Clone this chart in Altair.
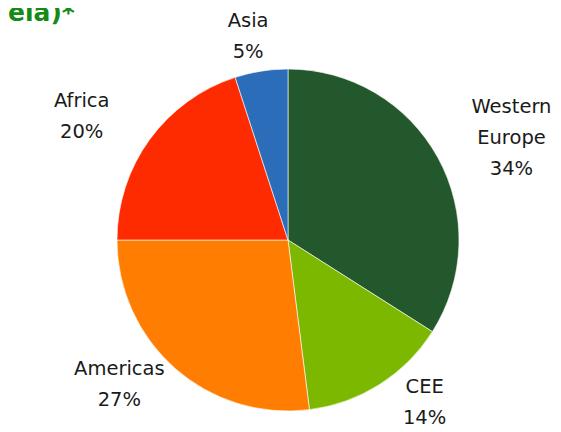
import altair as alt
import pandas as pd

# ---- data ----
regions = ["Western Europe", "CEE", "Americas", "Africa", "Asia"]
label_names = ["Western\nEurope", "CEE", "Americas", "Africa", "Asia"]
shares = [34, 14, 27, 20, 5]
colors = ["#23572c", "#7db800", "#ff7d00", "#ff2b00", "#2c6dba"]
title_text = "ela)*"

df = pd.DataFrame({
    "idx": list(range(len(regions))),
    "region": regions,
    "name": label_names,
    "share": shares,
})
df["label"] = df["name"] + "\n" + df["share"].astype(str) + "%"

# layout constants
CX, CY, R = 280, 232, 171      # pie centre / radius (chart coords)
RX, RY = 255, 200              # label ellipse
LCY = CY - 6                   # label ellipse centre (y)
LH = 31                        # label line height

base = alt.Chart(df)

pie = base.mark_arc(outerRadius=R, stroke="white", strokeWidth=0.6).encode(
    theta=alt.Theta("share:Q", stack=True),
    order=alt.Order("idx:Q"),
    color=alt.Color("region:N", scale=alt.Scale(domain=regions, range=colors), legend=None),
    x=alt.value(CX),
    y=alt.value(CY),
)

labels = (
    base.transform_joinaggregate(total="sum(share)")
    .transform_window(cum="sum(share)", sort=[alt.SortField("idx", order="ascending")], frame=[None, 0])
    .transform_calculate(
        mid="(datum.cum - datum.share / 2) / datum.total * 2 * PI",
        nl="length(split(datum.label, '\\n'))",
    )
    .transform_calculate(
        lx=f"{CX} + {RX} * sin(datum.mid)",
        ly=f"{LCY} - {RY} * cos(datum.mid) - (datum.nl - 1) * {LH} / 2",
    )
    .mark_text(font="DejaVu Sans", fontSize=19.5, lineBreak="\n", lineHeight=LH,
               color="#1a1a1a", align="center", baseline="middle")
    .encode(
        x=alt.X("lx:Q", scale=None),
        y=alt.Y("ly:Q", scale=None),
        text="label:N",
    )
)

title = alt.Chart(pd.DataFrame({"t": [title_text]})).mark_text(
    font="DejaVu Sans", fontWeight="bold", fontSize=25, color="#168a16",
    align="left", baseline="alphabetic",
).encode(x=alt.value(0), y=alt.value(13), text="t:N")

chart = alt.layer(pie, labels, title).properties(
    width=545, height=424,
    autosize=alt.AutoSizeParams(type="none"),
    padding=0,
).configure_view(stroke=None)

chart.save("out.html", embed_options={"renderer": "svg", "actions": False})
